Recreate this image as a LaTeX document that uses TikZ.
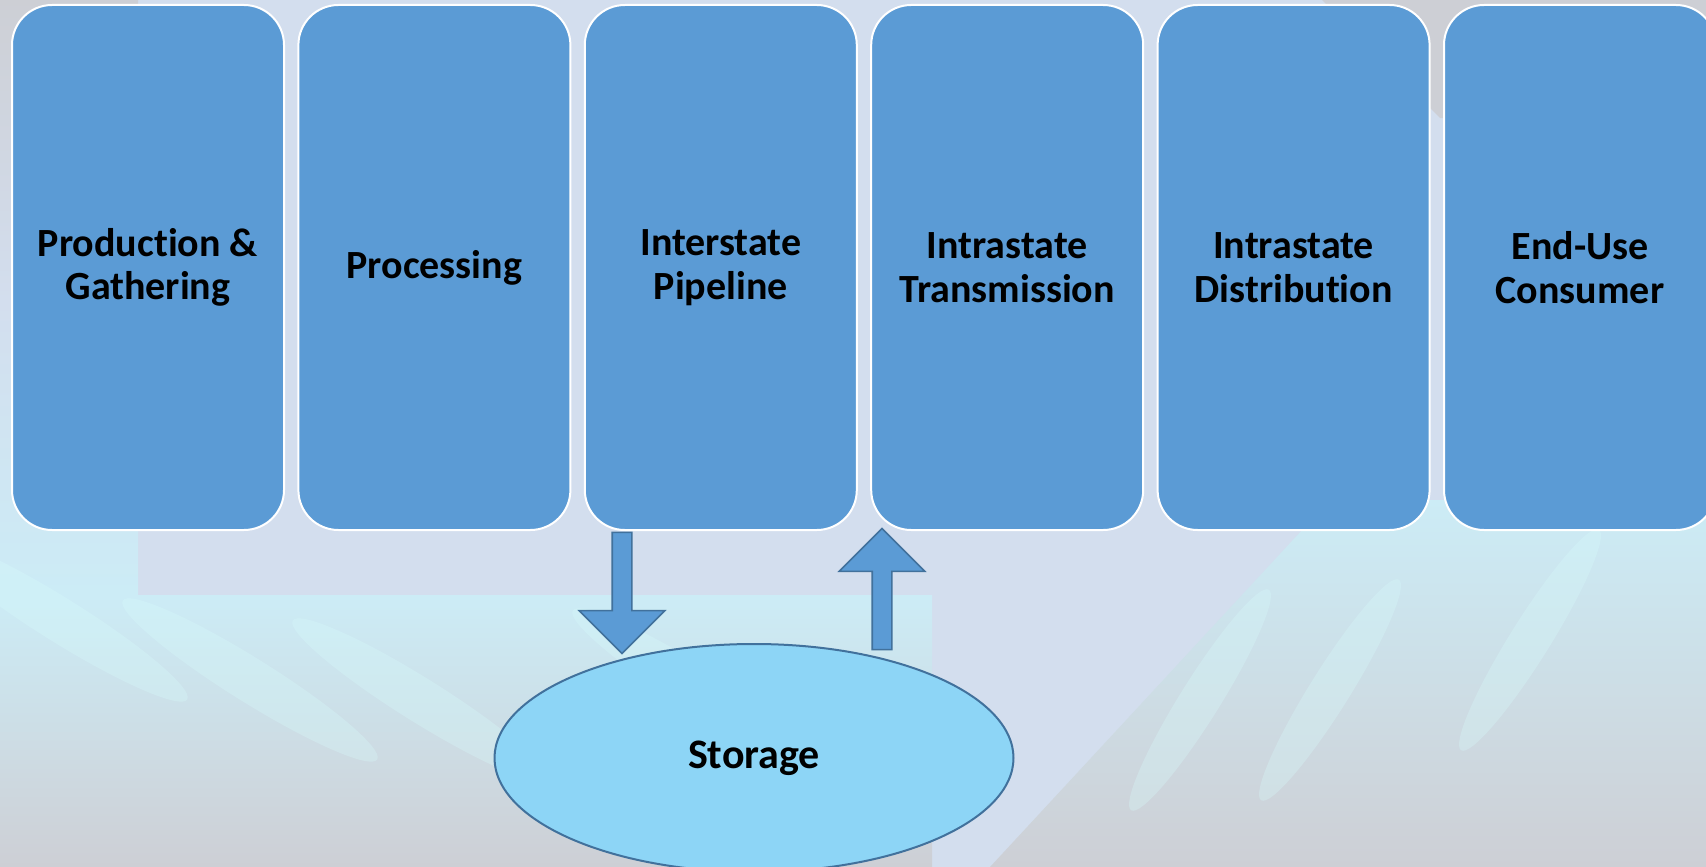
\documentclass[tikz,border=0pt]{standalone}
\usepackage{fontspec}
\setmainfont{Carlito}[Ligatures=NoCommon]
\usetikzlibrary{positioning}
\usetikzlibrary{shapes.geometric,shapes.arrows}

\definecolor{stageblue}{RGB}{91,155,213}
\definecolor{edgeblue}{RGB}{65,113,156}
\definecolor{storeblue}{RGB}{141,213,246}
\definecolor{lavender}{RGB}{211,222,238}
\definecolor{flamecyan}{RGB}{204,236,246}
\definecolor{flamelight}{RGB}{215,252,252}
\definecolor{smoke}{RGB}{205,207,213}

\begin{document}
\begin{tikzpicture}
			[x=1pt,y=1pt,node distance=12.4pt,
			stage/.style={draw=white,line width=2pt,fill=stageblue,rounded corners=40pt,
				minimum width=272pt,minimum height=525pt,inner sep=0pt,align=center,
				font=\bfseries\fontsize{40}{43.5}\selectfont},
			store/.style={ellipse,draw=edgeblue,line width=2pt,fill=storeblue,
				minimum width=519pt,minimum height=228pt,font=\bfseries\fontsize{42}{46}\selectfont},
			flow/.style={single arrow,draw=edgeblue,line width=1.6pt,fill=stageblue,
				minimum height=121pt,inner xsep=0pt,inner ysep=9pt,
				single arrow head extend=33pt,single arrow head indent=0pt}]
			\useasboundingbox (0,0) rectangle (1706,-867);
			
			% background photo, roughly
			\fill[lavender] (0,0) rectangle (1706,-867);
			\shade[top color=smoke,bottom color=lavender] (0,0) rectangle (138,-300);
			\shade[top color=lavender,bottom color=flamecyan] (0,-300) rectangle (138,-595);
			\shade[top color=flamecyan,bottom color=smoke]
				(0,-595) -- (932,-595) -- (932,-867) -- (0,-867) -- cycle;
			\shade[top color=flamecyan,bottom color=smoke]
				(990,-867) -- (1330,-500) -- (1706,-500) -- (1706,-867) -- cycle;
			\fill[smoke] (1322,0) -- (1706,0) -- (1706,-118) -- (1440,-118) -- cycle;
			\foreach \x/\y in {60/-620, 250/-680, 420/-700, 700/-690}
				\fill[flamelight,opacity=.3,rotate around={-32:(\x,\y)}] (\x,\y) ellipse (150 and 22);
			\foreach \x/\y in {1200/-700, 1330/-690, 1530/-640}
				\fill[flamelight,opacity=.3,rotate around={58:(\x,\y)}] (\x,\y) ellipse (130 and 20);
			
			% stages
			\node[stage] (s1) at (148,-267.5) {Production \&\\Gathering};
			\node[stage,right=of s1] (s2) {Processing};
			\node[stage,right=of s2] (s3) {Interstate\\Pipeline};
			\node[stage,right=of s3] (s4) {Intrastate\\Transmission};
			\node[stage,right=of s4] (s5) {Intrastate\\Distribution};
			\node[stage,right=of s5] (s6) {End-Use\\Consumer};
			
			% storage and flows
			\node[flow,rotate=-90] (into) at (622,-588) {};
			\node[flow,rotate=90] (outof) at (882,-594) {};
			\node[store] (st) at (754,-758) {Storage};
\end{tikzpicture}
\end{document}
